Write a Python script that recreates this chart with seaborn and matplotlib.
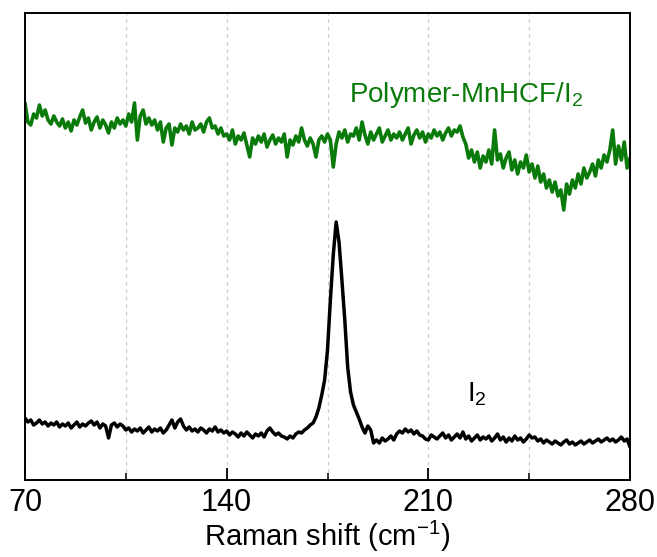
import numpy as np
import pandas as pd
import seaborn as sns
import matplotlib
matplotlib.use("Agg")
import matplotlib.pyplot as plt

# Raman shift axis (cm^-1), 1 cm^-1 steps
shift = list(range(70, 281))

# Polymer-MnHCF/I2 spectrum (offset, arbitrary units)
polymer_i2 = [
    377, 358, 355, 366, 362, 375, 364, 370, 360, 356,
    364, 358, 354, 361, 352, 358, 349, 360, 355, 363,
    370, 357, 362, 350, 358, 363, 352, 360, 355, 347,
    358, 352, 362, 356, 360, 354, 366, 358, 377, 340,
    364, 370, 356, 362, 355, 360, 350, 358, 338, 352,
    356, 335, 352, 348, 356, 350, 354, 346, 358, 350,
    352, 356, 348, 358, 362, 352, 354, 346, 352, 344,
    346, 340, 350, 336, 344, 340, 347, 335, 323, 342,
    336, 344, 338, 346, 333, 340, 345, 336, 342, 338,
    346, 323, 340, 335, 344, 338, 352, 340, 334, 342,
    336, 323, 340, 344, 338, 346, 340, 313, 336, 348,
    342, 350, 338, 346, 344, 352, 340, 358, 345, 336,
    348, 340, 346, 352, 338, 344, 350, 340, 346, 342,
    348, 340, 346, 352, 336, 345, 350, 342, 348, 338,
    346, 342, 350, 344, 348, 340, 347, 352, 344, 350,
    348, 354, 343, 336, 322, 330, 318, 328, 312, 324,
    318, 330, 316, 350, 320, 326, 312, 322, 328, 310,
    320, 306, 318, 312, 325, 308, 316, 302, 314, 298,
    306, 292, 300, 288, 298, 284, 290, 270, 296, 286,
    300, 292, 306, 296, 312, 302, 308, 316, 304, 320,
    312, 325, 318, 330, 350, 316, 334, 320, 338, 312,
    322,
]

# I2 reference spectrum (arbitrary units)
iodine = [
    62, 58, 60, 55, 57, 60, 56, 58, 54, 57,
    55, 58, 53, 56, 54, 57, 52, 55, 58, 53,
    56, 54, 57, 59, 55, 58, 52, 56, 54, 42,
    55, 57, 53, 56, 54, 50, 52, 48, 51, 49,
    52, 47, 50, 53, 48, 51, 49, 52, 47, 50,
    55, 60, 52, 58, 61, 54, 50, 53, 49, 51,
    48, 52, 50, 47, 51, 49, 53, 48, 50, 47,
    49, 45, 48, 46, 43, 47, 44, 48, 45, 42,
    46, 44, 47, 43, 49, 52, 48, 45, 47, 44,
    43, 41, 44, 42, 46, 48, 47, 50, 52, 55,
    57, 63, 72, 85, 100, 130, 180, 225, 258, 238,
    200, 160, 113, 88, 75, 68, 61, 53, 47, 54,
    50, 37, 40, 37, 42, 39, 41, 44, 40, 46,
    49, 47, 51, 48, 50, 46, 49, 45, 44, 41,
    40, 45, 43, 41, 44, 47, 42, 45, 40, 43,
    46, 42, 48, 41, 44, 39, 42, 45, 40, 43,
    41, 44, 39, 42, 46, 40, 43, 38, 42, 39,
    44, 40, 42, 38, 41, 45, 42, 43, 39, 41,
    37, 40, 38, 36, 39, 37, 35, 38, 40, 36,
    38, 35, 37, 39, 36, 38, 40, 37, 39, 41,
    38, 40, 42, 39, 41, 38, 40, 43, 39, 41,
    33,
]

major_ticks = [70, 140, 210, 280]
minor_ticks = [105, 175, 245]

sns.set_style("white")
plt.rcParams["font.family"] = ["Liberation Sans", "DejaVu Sans"]
plt.rcParams["mathtext.default"] = "regular"

fig = plt.figure(figsize=(6.57, 5.57), dpi=100)
ax = fig.add_axes([25 / 657, 77 / 557, 605 / 657, 467 / 557])

df = pd.DataFrame({"shift": shift, "polymer": polymer_i2, "iodine": iodine})

# dashed guides at every tick except the frame edges
for xv in [105, 140, 175, 210, 245]:
    ax.axvline(xv, color="#cccccc", lw=0.9, ls=(0, (3, 3)), zorder=0)

sns.lineplot(data=df, x="shift", y="polymer", ax=ax, color="#0a7a0a", lw=2.6)
sns.lineplot(data=df, x="shift", y="iodine", ax=ax, color="black", lw=2.5)

ax.set_xlim(70, 280)
ax.set_ylim(0, 467)
ax.set_xticks(major_ticks)
ax.set_xticks(minor_ticks, minor=True)
ax.set_yticks([])
ax.tick_params(axis="x", which="major", direction="in", length=9, width=1.3,
               labelsize=22, pad=6, color="black", labelcolor="black",
               bottom=True)
ax.tick_params(axis="x", which="minor", direction="in", length=5, width=1.1,
               color="black", bottom=True)
ax.set_xlabel("Raman shift (cm$^{-1}$)", fontsize=21, labelpad=0,
              color="black")
ax.set_ylabel("")
for s in ax.spines.values():
    s.set_color("black")
    s.set_linewidth(1.4)

ax.text(182.5, 378, "Polymer-MnHCF/I$_2$", color="#0a7a0a", fontsize=20)
ax.text(223.4, 78, "I$_2$", color="black", fontsize=20)

fig.savefig("out.png", dpi=100)
